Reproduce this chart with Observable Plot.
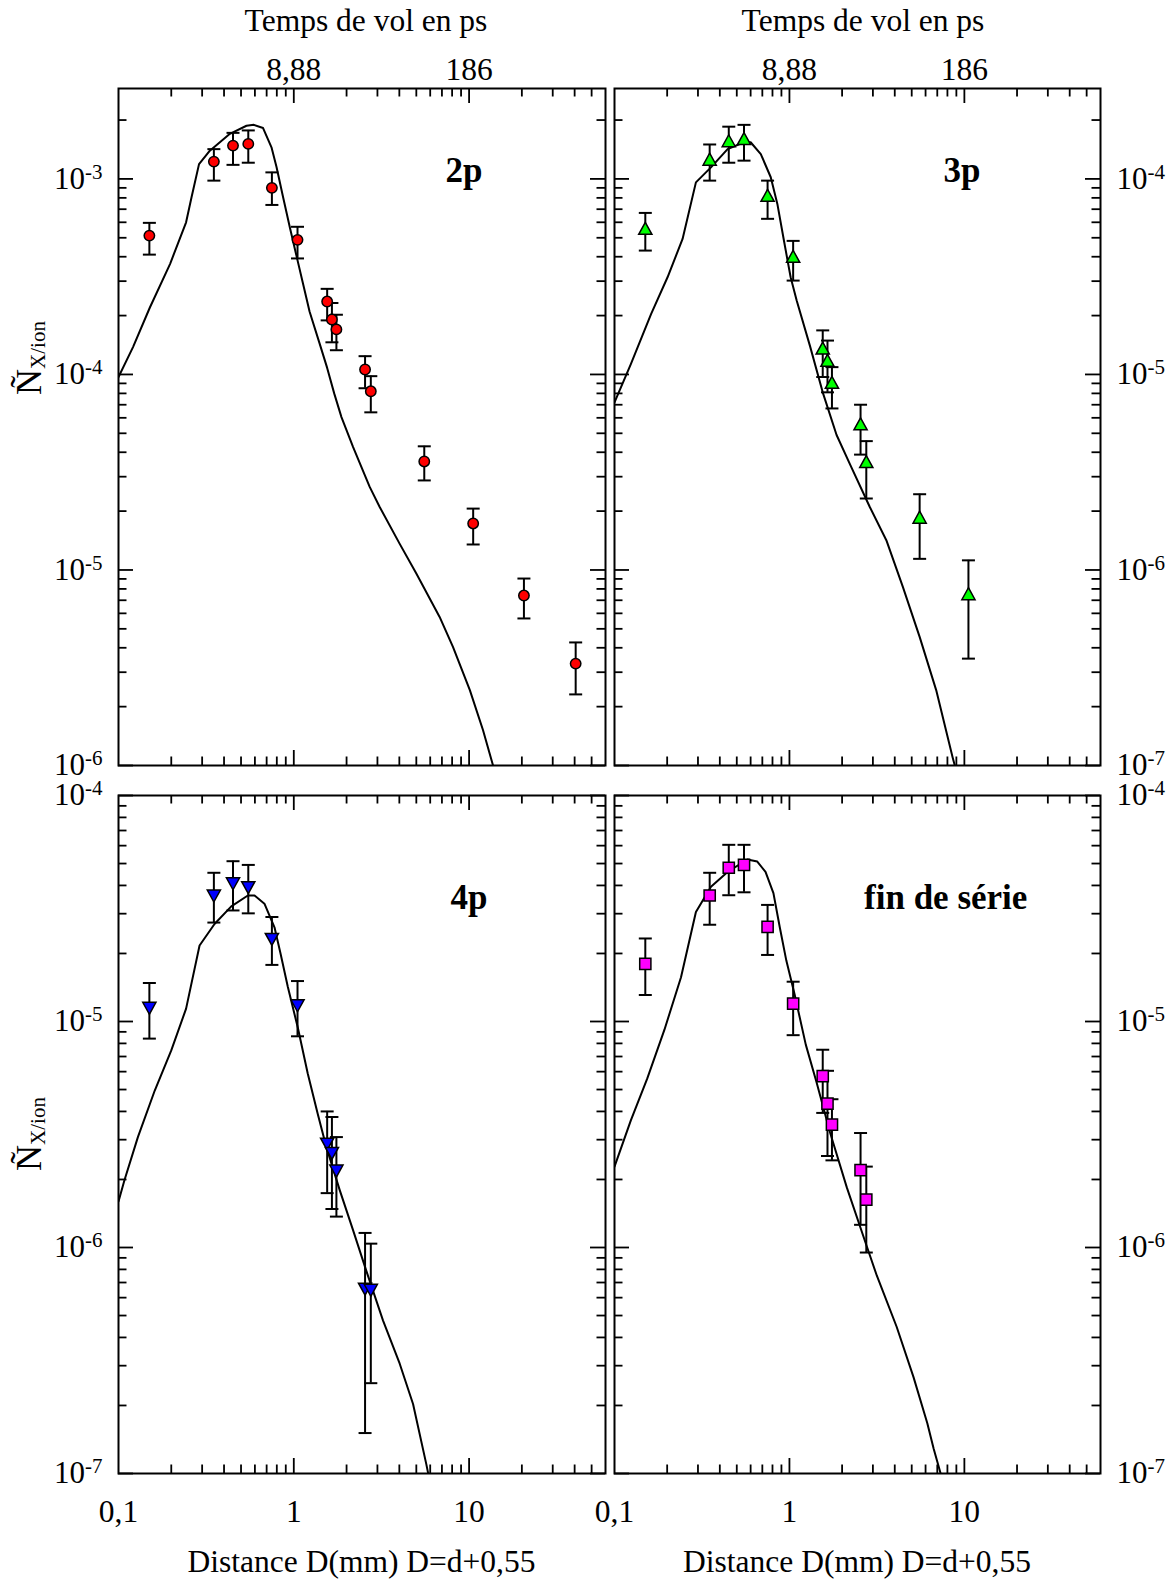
<!DOCTYPE html>
<html><head><meta charset="utf-8">
<script src="https://cdn.jsdelivr.net/npm/d3@7"></script>
<script src="https://cdn.jsdelivr.net/npm/@observablehq/plot@0.6"></script>
<style>
body{margin:0;background:#fff;}
#fig{position:relative;width:1174px;height:1580px;background:#fff;font-family:"Liberation Serif","Times New Roman",serif;color:#000;overflow:hidden;}
#fig svg{position:absolute;overflow:visible;}
.lab{position:absolute;font-size:31.5px;white-space:nowrap;transform:translate(-50%,-50%);line-height:1;}
.ylab{position:absolute;font-size:36px;white-space:nowrap;transform:translate(-50%,-50%) rotate(-90deg);line-height:1;}
.ylab sub{font-size:21px;vertical-align:-0.2em;}
</style></head><body><div id="fig"></div>
<script>
// ---------- data ----------
const distance = [0.15, 0.35, 0.45, 0.55, 0.75, 1.05, 1.55, 1.65, 1.75, 2.55, 2.75, 5.55, 10.55, 20.55, 40.55];

const p2N  = [5.13e-4, 1.226e-3, 1.48e-3, 1.51e-3, 9.0e-4, 4.88e-4, 2.36e-4, 1.91e-4, 1.70e-4, 1.06e-4, 8.2e-5, 3.59e-5, 1.73e-5, 7.4e-6, 3.32e-6];
const p2Hi = [5.96e-4, 1.42e-3, 1.72e-3, 1.77e-3, 1.08e-3, 5.69e-4, 2.74e-4, 2.32e-4, 2.02e-4, 1.24e-4, 9.8e-5, 4.29e-5, 2.06e-5, 9.04e-6, 4.26e-6];
const p2Lo = [4.1e-4, 9.8e-4, 1.18e-3, 1.21e-3, 7.36e-4, 3.92e-4, 1.89e-4, 1.46e-4, 1.33e-4, 8.5e-5, 6.4e-5, 2.87e-5, 1.35e-5, 5.65e-6, 2.31e-6];

const p3N  = [5.49e-5, 1.24e-4, 1.54e-4, 1.58e-4, 8.1e-5, 3.95e-5, 1.34e-5, 1.16e-5, 8.96e-6, 5.49e-6, 3.52e-6, 1.83e-6, 7.43e-7];
const p3Hi = [6.7e-5, 1.50e-4, 1.85e-4, 1.89e-4, 9.8e-5, 4.82e-5, 1.68e-5, 1.49e-5, 1.09e-5, 7.0e-6, 4.56e-6, 2.44e-6, 1.12e-6];
const p3Lo = [4.3e-5, 9.8e-5, 1.21e-4, 1.24e-4, 6.25e-5, 3.02e-5, 9.7e-6, 8.1e-6, 6.7e-6, 3.89e-6, 2.32e-6, 1.14e-6, 3.52e-7];

const p4N  = [1.15e-5, 3.61e-5, 4.09e-5, 3.93e-5, 2.32e-5, 1.18e-5, 2.88e-6, 2.62e-6, 2.19e-6, 6.57e-7, 6.5e-7];
const p4Hi = [1.48e-5, 4.55e-5, 5.12e-5, 4.93e-5, 2.9e-5, 1.51e-5, 4.0e-6, 3.78e-6, 3.08e-6, 1.16e-6, 1.04e-6];
const p4Lo = [8.4e-6, 2.74e-5, 3.1e-5, 3.01e-5, 1.78e-5, 8.6e-6, 1.74e-6, 1.48e-6, 1.37e-6, 1.51e-7, 2.51e-7];

const pfN  = [1.80e-5, 3.61e-5, 4.79e-5, 4.93e-5, 2.62e-5, 1.20e-5, 5.73e-6, 4.33e-6, 3.5e-6, 2.2e-6, 1.63e-6];
const pfHi = [2.33e-5, 4.55e-5, 6.05e-5, 6.05e-5, 3.28e-5, 1.50e-5, 7.5e-6, 6.05e-6, 4.53e-6, 3.21e-6, 2.28e-6];
const pfLo = [1.31e-5, 2.68e-5, 3.62e-5, 3.73e-5, 1.97e-5, 8.7e-6, 3.94e-6, 2.54e-6, 2.43e-6, 1.26e-6, 9.5e-7];

const p2CurveD = [0.1, 0.121, 0.151, 0.197, 0.243, 0.261, 0.288, 0.332, 0.432, 0.537, 0.592, 0.668, 0.746, 0.797, 0.869, 0.949, 1.04, 1.13, 1.23, 1.40, 1.55, 1.70, 1.87, 2.18, 2.71, 3.09, 4.02, 5.0, 6.79, 8.09, 10.1, 12.0, 15.0];
const p2CurveN = [9.7e-5, 1.38e-4, 2.2e-4, 3.68e-4, 6.0e-4, 8.05e-4, 1.19e-3, 1.395e-3, 1.70e-3, 1.87e-3, 1.89e-3, 1.82e-3, 1.45e-3, 1.15e-3, 8.05e-4, 5.66e-4, 3.98e-4, 2.9e-4, 2.1e-4, 1.45e-4, 1.08e-4, 8.0e-5, 6.05e-5, 4.25e-5, 2.66e-5, 2.1e-5, 1.36e-5, 9.6e-6, 5.75e-6, 4.04e-6, 2.43e-6, 1.52e-6, 7.5e-7];

const p3CurveD = [0.1, 0.124, 0.162, 0.201, 0.245, 0.292, 0.356, 0.443, 0.551, 0.60, 0.686, 0.782, 0.853, 0.93, 1.016, 1.10, 1.31, 1.55, 1.86, 2.21, 2.88, 3.58, 4.45, 5.55, 6.9, 8.57, 9.6];
const p3CurveN = [7.2e-6, 1.13e-5, 2.04e-5, 3.14e-5, 4.93e-5, 9.6e-5, 1.146e-4, 1.42e-4, 1.54e-4, 1.54e-4, 1.34e-4, 1.02e-4, 7.45e-5, 4.84e-5, 3.14e-5, 2.39e-5, 1.4e-5, 8.1e-6, 4.9e-6, 3.5e-6, 2.1e-6, 1.42e-6, 8.2e-7, 4.55e-7, 2.43e-7, 1.1e-7, 7.5e-8];

const p4CurveD = [0.1, 0.108, 0.129, 0.161, 0.2, 0.243, 0.29, 0.353, 0.44, 0.547, 0.597, 0.68, 0.776, 0.84, 0.925, 1.054, 1.2, 1.37, 1.53, 1.83, 2.18, 2.59, 3.23, 4.02, 4.79, 5.7, 6.3];
const p4CurveN = [1.6e-6, 1.98e-6, 3.08e-6, 4.95e-6, 7.45e-6, 1.14e-5, 2.17e-5, 2.7e-5, 3.23e-5, 3.61e-5, 3.61e-5, 3.32e-5, 2.61e-5, 2.0e-5, 1.42e-5, 9.4e-6, 5.9e-6, 3.9e-6, 2.8e-6, 1.79e-6, 1.19e-6, 7.9e-7, 4.75e-7, 3.06e-7, 2.03e-7, 1.1e-7, 7.5e-8];

const pfCurveD = [0.1, 0.124, 0.154, 0.193, 0.24, 0.292, 0.356, 0.443, 0.575, 0.655, 0.73, 0.81, 0.88, 0.96, 1.07, 1.24, 1.43, 1.71, 2.13, 2.77, 3.16, 4.1, 5.12, 6.14, 6.67, 7.6];
const pfCurveN = [2.28e-6, 3.65e-6, 5.6e-6, 9.2e-6, 1.57e-5, 3.05e-5, 3.95e-5, 4.59e-5, 5.21e-5, 5.1e-5, 4.59e-5, 3.7e-5, 2.62e-5, 1.86e-5, 1.32e-5, 7.9e-6, 5.37e-6, 3.21e-6, 1.84e-6, 1.01e-6, 7.5e-7, 4.46e-7, 2.67e-7, 1.67e-7, 1.29e-7, 9e-8];

// ---------- axes / labels ----------
const xDomain = [0.1, 60];
const xMajorTicks = [1, 10];
const xMinorTicks = [0.2, 0.3, 0.4, 0.5, 0.6, 0.7, 0.8, 0.9, 2, 3, 4, 5, 6, 7, 8, 9, 20, 30, 40, 50];
const xBottomLabelValues = [0.1, 1, 10];
const xBottomLabelText = ["0,1", "1", "10"];
const xTopLabelValues = [1, 10];
const xTopLabelText = ["8,88", "186"];
const yDomainTopLeft = [1e-6, 2.9e-3];
const yDomainTopRight = [1e-7, 2.9e-4];
const yDomainBottom = [1e-7, 1e-4];
const panelNames = ["2p", "3p", "4p", "fin de série"];
const topTitle = "Temps de vol en ps";
const bottomTitle = "Distance D(mm) D=d+0,55";

// ---------- helpers ----------
const rows = (D, N, hi, lo) => N.map((n, i) => ({D: D[i], N: n, hi: hi[i], lo: lo[i]}));
const curveRows = (D, N) => D.map((d, i) => ({D: d, N: N[i]}));

const capSymbol = {draw(ctx) { ctx.moveTo(-6.5, 0); ctx.lineTo(6.5, 0); }};
const circleSymbol = {draw(ctx) { ctx.moveTo(5.2, 0); ctx.arc(0, 0, 5.2, 0, 2 * Math.PI); }};
const triUpSymbol = {draw(ctx) { ctx.moveTo(0, -7.5); ctx.lineTo(6.6, 4.5); ctx.lineTo(-6.6, 4.5); ctx.closePath(); }};
const triDownSymbol = {draw(ctx) { ctx.moveTo(0, 6.5); ctx.lineTo(6.6, -5.5); ctx.lineTo(-6.6, -5.5); ctx.closePath(); }};
const squareSymbol = {draw(ctx) { ctx.rect(-5.6, -5.6, 11.2, 11.2); }};

const MAJOR = 15, MINOR = 8.5;

function superscripts(svg) {
  const NS = "http://www.w3.org/2000/svg";
  svg.querySelectorAll("text").forEach(t => {
    const m = /^10\^(-?\d+)$/.exec(t.textContent.trim());
    if (!m) return;
    while (t.firstChild) t.removeChild(t.firstChild);
    const a = document.createElementNS(NS, "tspan"); a.textContent = "10";
    const b = document.createElementNS(NS, "tspan");
    b.setAttribute("dy", "-10"); b.setAttribute("font-size", "21"); b.textContent = m[1];
    t.appendChild(a); t.appendChild(b);
  });
}

function panel(cfg) {
  const {left, top, width, height, mL, mR, mT, mB, yDomain, pts, curve, symbol, fill, ySide, xSide, name, nameDx, nameDy} = cfg;
  const W = width - mL - mR, H = height - mT - mB;
  const e0 = Math.ceil(Math.log10(yDomain[0]) - 1e-9), e1 = Math.floor(Math.log10(yDomain[1]) + 1e-9);
  const yMajor = d3.range(e0, e1 + 1).map(e => Math.pow(10, e));
  const yMinor = [];
  for (let e = e0 - 1; e <= e1; e++) for (let k = 2; k <= 9; k++) {
    const v = k * Math.pow(10, e);
    if (v > yDomain[0] * 1.0001 && v < yDomain[1] * 0.9999) yMinor.push(v);
  }
  const ts = {stroke: "black", strokeWidth: 1.8};
  const marks = [
    Plot.line(curve, {x: "D", y: "N", stroke: "black", strokeWidth: 2, clip: true}),
    Plot.ruleX(pts, {x: "D", y1: "lo", y2: "hi", stroke: "black", strokeWidth: 2}),
    Plot.dot(pts, {x: "D", y: "hi", symbol: capSymbol, fill: "none", stroke: "black", strokeWidth: 2}),
    Plot.dot(pts, {x: "D", y: "lo", symbol: capSymbol, fill: "none", stroke: "black", strokeWidth: 2}),
    Plot.dot(pts, {x: "D", y: "N", symbol, fill, stroke: "black", strokeWidth: 1.5}),
    Plot.tickX(xMinorTicks, {x: d => d, insetTop: H - MINOR, ...ts}),
    Plot.tickX(xMinorTicks, {x: d => d, insetBottom: H - MINOR, ...ts}),
    Plot.tickX(xMajorTicks, {x: d => d, insetTop: H - MAJOR, ...ts}),
    Plot.tickX(xMajorTicks, {x: d => d, insetBottom: H - MAJOR, ...ts}),
    Plot.tickY(yMinor, {y: d => d, insetRight: W - MINOR, ...ts}),
    Plot.tickY(yMinor, {y: d => d, insetLeft: W - MINOR, ...ts}),
    Plot.tickY(yMajor, {y: d => d, insetRight: W - MAJOR, ...ts}),
    Plot.tickY(yMajor, {y: d => d, insetLeft: W - MAJOR, ...ts}),
    Plot.frame({stroke: "black", strokeWidth: 2}),
    Plot.axisY({anchor: ySide, ticks: yMajor, tickSize: 0, tickPadding: 16, label: null,
      tickFormat: d => "10^" + Math.round(Math.log10(d)), fontSize: 31}),
    xSide === "top"
      ? Plot.axisX({anchor: "top", ticks: xTopLabelValues, tickSize: 0, tickPadding: 9, label: null,
          tickFormat: d => xTopLabelText[xTopLabelValues.indexOf(d)], fontSize: 31.5})
      : Plot.axisX({anchor: "bottom", ticks: xBottomLabelValues, tickSize: 0, tickPadding: 26, label: null,
          tickFormat: d => xBottomLabelText[xBottomLabelValues.indexOf(d)], fontSize: 31.5}),
    Plot.text([name], {text: d => d, frameAnchor: "top-right", dx: nameDx, dy: nameDy, textAnchor: "middle",
      lineAnchor: "middle", fontSize: 35, fontWeight: "bold"})
  ];
  const svg = Plot.plot({
    width, height, marginLeft: mL, marginRight: mR, marginTop: mT, marginBottom: mB,
    x: {type: "log", domain: xDomain},
    y: {type: "log", domain: yDomain},
    style: {background: "transparent", overflow: "visible", fontFamily: "'Liberation Serif', 'Times New Roman', serif", color: "black"},
    marks
  });
  superscripts(svg);
  svg.style.left = left + "px";
  svg.style.top = top + "px";
  return svg;
}

const fig = document.getElementById("fig");

fig.appendChild(panel({left: 0, top: 0, width: 612, height: 780, mL: 118, mR: 7, mT: 88, mB: 15,
  yDomain: yDomainTopLeft, pts: rows(distance, p2N, p2Hi, p2Lo), curve: curveRows(p2CurveD, p2CurveN),
  symbol: circleSymbol, fill: "#ff0000", ySide: "left", xSide: "top", name: panelNames[0], nameDx: -141.5, nameDy: 82}));
fig.appendChild(panel({left: 612, top: 0, width: 562, height: 780, mL: 2, mR: 74, mT: 88, mB: 15,
  yDomain: yDomainTopRight, pts: rows(distance, p3N, p3Hi, p3Lo), curve: curveRows(p3CurveD, p3CurveN),
  symbol: triUpSymbol, fill: "#00ff00", ySide: "right", xSide: "top", name: panelNames[1], nameDx: -138.4, nameDy: 82}));
fig.appendChild(panel({left: 0, top: 780, width: 612, height: 800, mL: 118, mR: 7, mT: 15, mB: 107,
  yDomain: yDomainBottom, pts: rows(distance, p4N, p4Hi, p4Lo), curve: curveRows(p4CurveD, p4CurveN),
  symbol: triDownSymbol, fill: "#0000ff", ySide: "left", xSide: "bottom", name: panelNames[2], nameDx: -136.4, nameDy: 102}));
fig.appendChild(panel({left: 612, top: 780, width: 562, height: 800, mL: 2, mR: 74, mT: 15, mB: 107,
  yDomain: yDomainBottom, pts: rows(distance, pfN, pfHi, pfLo), curve: curveRows(pfCurveD, pfCurveN),
  symbol: squareSymbol, fill: "#ff00ff", ySide: "right", xSide: "bottom", name: panelNames[3], nameDx: -154.8, nameDy: 102}));

function addLabel(cls, html, x, y) {
  const d = document.createElement("div");
  d.className = cls; d.innerHTML = html;
  d.style.left = x + "px"; d.style.top = y + "px";
  fig.appendChild(d);
}
addLabel("lab", topTitle, 366, 21);
addLabel("lab", topTitle, 863, 21);
addLabel("lab", bottomTitle, 361.5, 1562);
addLabel("lab", bottomTitle, 857, 1562);
addLabel("ylab", "Ñ<sub>X/ion</sub>", 30, 358);
addLabel("ylab", "Ñ<sub>X/ion</sub>", 30, 1134);
</script></body></html>
